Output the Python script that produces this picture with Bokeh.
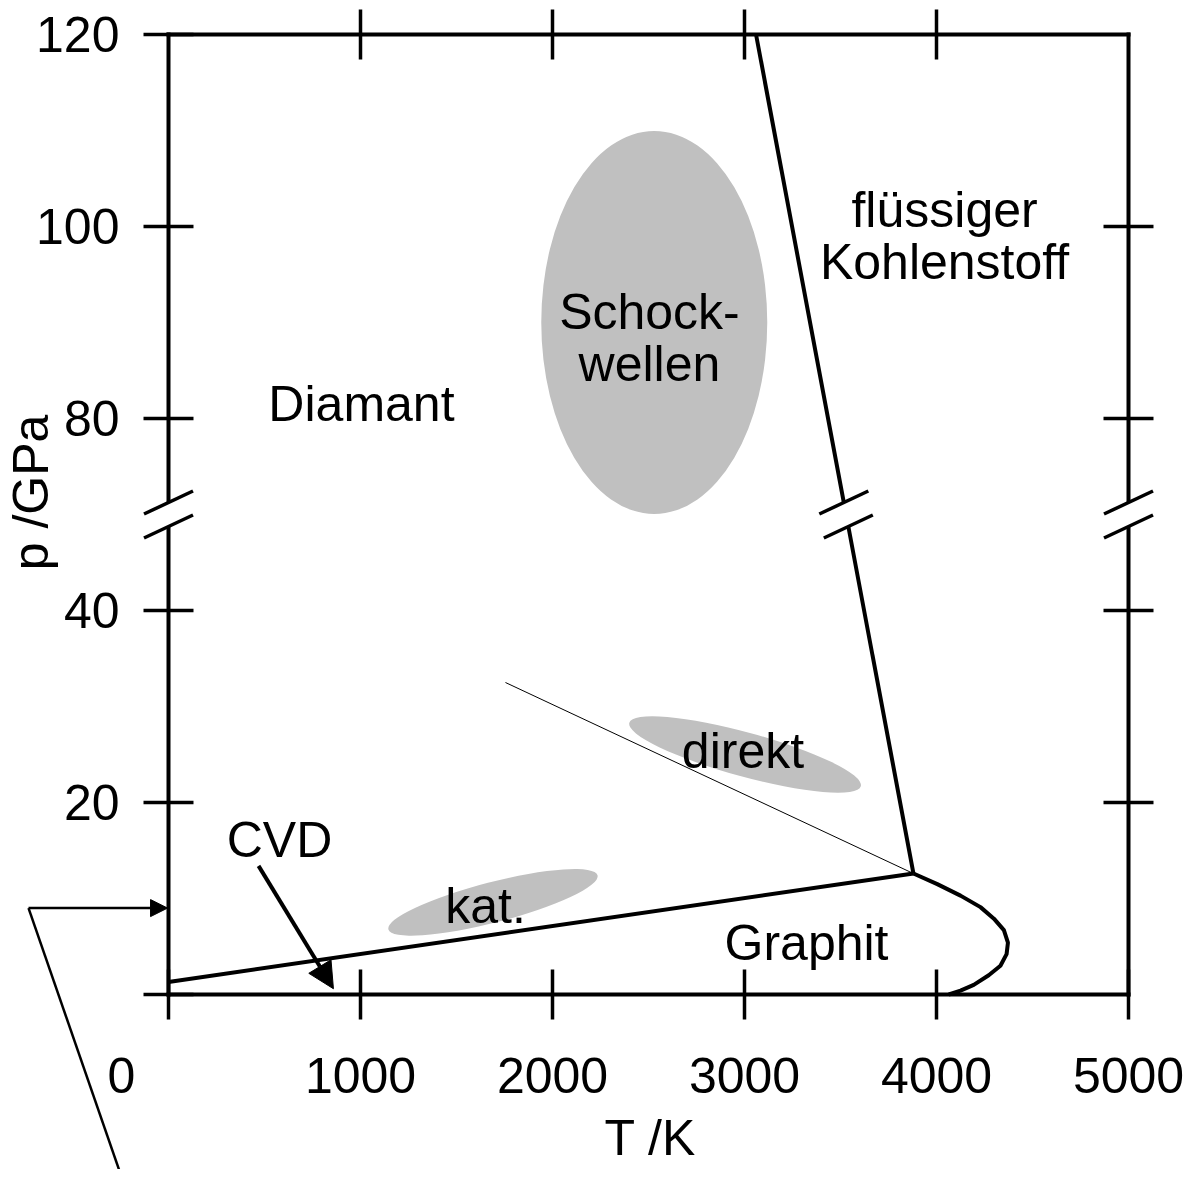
import numpy as np
from bokeh.plotting import figure
from bokeh.models import LinearAxis, FixedTicker, Label, Arrow, NormalHead, Range1d
from bokeh.core.properties import value
from bokeh.embed import file_html
from bokeh.resources import INLINE

FONT = "Liberation Sans"
FS = "50px"

# ---------------- data ----------------
# axis ticks (T in K, p in GPa)
T_ticks = [0, 1000, 2000, 3000, 4000, 5000]
T_tick_labels = ["", "1000", "2000", "3000", "4000", "5000"]
top_T_ticks = [1000, 2000, 3000, 4000]
p_ticks_low = [0, 20, 40]
p_labels_low = ["", "20", "40"]
p_ticks_high = [80, 100, 120]
p_labels_high = ["80", "100", "120"]
right_p_ticks_low = [20, 40]
right_p_ticks_high = [80, 100]

# broken pressure axis: 0..50 GPa below the break, 70..120 GPa above it
P_BREAK = 50
P_SHIFT = 20
T_MIN, T_MAX = 0, 5000
P_DISP_MAX = 100

# phase boundaries
gd_T = [0, 3880]            # graphite / diamond
gd_p = [1.3, 12.6]
dl_T = [3880, 3060]         # diamond / liquid
dl_p = [12.6, 120]
gl_T = [3880, 4004, 4125, 4229, 4299, 4351, 4372, 4365, 4333, 4272, 4194, 4125, 4064]  # graphite / liquid
gl_p = [12.6, 11.5, 10.3, 9.1, 7.9, 6.7, 5.4, 4.2, 3.0, 2.0, 1.0, 0.4, 0.0]
ms_T = [1755, 3880]         # metastable extension
ms_p = [32.5, 12.6]

# synthesis regions (centre, extent along the tilted axes, tilt)
reg_name = ["Schockwellen", "direkt", "kat."]
reg_T = [2530, 3003, 1690]
reg_p = [90.0, 25.0, 9.6]
reg_dT = [1177, 1250, 1125]
reg_dp = [39.9, 4.6, 4.2]
reg_tilt = [0.0, -15.3, 14.5]

# region / phase labels
lab_text = ["Diamant", "Schock-\nwellen", "flüssiger\nKohlenstoff", "direkt", "kat.", "CVD", "Graphit"]
lab_T = [1005, 2505, 4042, 2992, 1651, 578, 3323]
lab_p = [81.5, 88.4, 99.0, 25.4, 9.2, 16.1, 5.4]

# CVD arrow
cvd_T = [469, 859]
cvd_p = [13.4, 0.6]

# pointer at the left of the pressure axis
ptr_T = [-729, -5, -229]
ptr_p = [9.0, 9.0, -19.9]


def disp(p):
    p = np.asarray(p, dtype=float)
    return np.where(p > P_BREAK, p - P_SHIFT, p)


# ---------------- figure ----------------
W, H = 1186, 1169
PX_PER_K = 0.192
PX_PER_GPA = 9.6
FRAME_LEFT, FRAME_BOTTOM = 168, 994
x_range = Range1d(-FRAME_LEFT / PX_PER_K, (W - FRAME_LEFT) / PX_PER_K)
y_range = Range1d(-(H - FRAME_BOTTOM) / PX_PER_GPA, FRAME_BOTTOM / PX_PER_GPA)

p = figure(width=W, height=H, x_range=x_range, y_range=y_range,
           output_backend="svg", toolbar_location=None,
           min_border_left=0, min_border_right=0, min_border_top=0, min_border_bottom=0,
           background_fill_color="white", border_fill_color="white")
p.outline_line_color = None
p.xgrid.visible = False
p.ygrid.visible = False

EPS_T, EPS_P = 10.4, 0.21
BR_LO, BR_HI = P_BREAK - 1.25, P_BREAK + 1.25


def style_axis(ax, ticks, labels, standoff, loc, bounds, show_labels=True):
    ax.fixed_location = loc
    ax.bounds = bounds
    ax.ticker = FixedTicker(ticks=[float(t) for t in ticks])
    ax.major_label_overrides = {float(t): l for t, l in zip(ticks, labels)}
    ax.axis_line_width = 4
    ax.axis_line_color = "black"
    ax.major_tick_line_width = 3.5
    ax.major_tick_line_color = "black"
    ax.major_tick_in = 25
    ax.major_tick_out = 25
    ax.minor_tick_line_color = None
    ax.major_label_text_font = FONT
    ax.major_label_text_color = "black"
    ax.major_label_text_font_size = FS if show_labels else "0px"
    ax.major_label_standoff = standoff


# bottom T axis
style_axis(p.xaxis[0], T_ticks, T_tick_labels, 38, 0.0, (T_MIN - EPS_T, T_MAX + EPS_T))
# top T axis
ax_top = LinearAxis()
style_axis(ax_top, top_T_ticks, [""] * len(top_T_ticks), 0, float(P_DISP_MAX),
           (T_MIN - EPS_T, T_MAX + EPS_T), show_labels=False)
p.add_layout(ax_top, "above")
# left p axis, lower and upper part
style_axis(p.yaxis[0], [float(v) for v in disp(p_ticks_low)], p_labels_low, 24, float(T_MIN),
           (-EPS_P, BR_LO))
ax_left_hi = LinearAxis()
style_axis(ax_left_hi, [float(v) for v in disp(p_ticks_high)], p_labels_high, 24, float(T_MIN),
           (BR_HI, P_DISP_MAX + EPS_P))
p.add_layout(ax_left_hi, "left")
# right p axis, lower and upper part
ax_right_lo = LinearAxis()
style_axis(ax_right_lo, [float(v) for v in disp(right_p_ticks_low)], [""] * 2, 0, float(T_MAX),
           (-EPS_P, BR_LO), show_labels=False)
p.add_layout(ax_right_lo, "right")
ax_right_hi = LinearAxis()
style_axis(ax_right_hi, [float(v) for v in disp(right_p_ticks_high)], [""] * 2, 0, float(T_MAX),
           (BR_HI, P_DISP_MAX + EPS_P), show_labels=False)
p.add_layout(ax_right_hi, "right")

# synthesis regions
p.ellipse(x=reg_T, y=disp(reg_p), width=reg_dT, height=reg_dp, angle=np.radians(reg_tilt),
          fill_color="#c0c0c0", line_color=None)

# phase boundaries
p.line(gd_T, disp(gd_p), line_width=4, line_color="black", line_join="round")
p.line(gl_T, disp(gl_p), line_width=4, line_color="black", line_join="round")
p.line(ms_T, disp(ms_p), line_width=1, line_color="black")

# diamond / liquid line, straight in the drawn coordinates, interrupted at the break
dl_y = disp(dl_p)


def T_at(yv):
    return dl_T[0] + (yv - dl_y[0]) * (dl_T[1] - dl_T[0]) / (dl_y[1] - dl_y[0])


T_hi, T_lo = T_at(BR_HI), T_at(BR_LO)
p.multi_line(xs=[[dl_T[1], T_hi], [T_lo, dl_T[0]]], ys=[[dl_y[1], BR_HI], [BR_LO, dl_y[0]]],
             line_width=4, line_color="black", line_join="round")

# break slashes on both axes and on the melting line
DX, DY = 127.6, 1.2
sx, sy = [], []
for xl, xh in [(T_MIN, T_MIN), (T_MAX, T_MAX), (T_lo, T_hi)]:
    sx += [xl, xh]
    sy += [BR_LO, BR_HI]
sx = np.array(sx)
sy = np.array(sy)
p.segment(x0=sx - DX, y0=sy - DY, x1=sx + DX, y1=sy + DY, line_color="black", line_width=3.5)

# texts
p.text(x=lab_T, y=disp(lab_p), text=lab_text, text_font=value(FONT), text_font_size=value(FS),
       text_align="center", text_baseline="middle", text_line_height=0.92, text_color="black")

# CVD arrow
p.add_layout(Arrow(end=NormalHead(size=26, fill_color="black", line_color="black"),
                   x_start=cvd_T[0], y_start=cvd_p[0], x_end=cvd_T[1], y_end=cvd_p[1],
                   line_width=4, line_color="black"))

# pointer on the left
p.add_layout(Arrow(end=NormalHead(size=17, fill_color="black", line_color="black"),
                   x_start=ptr_T[0], y_start=ptr_p[0], x_end=ptr_T[1], y_end=ptr_p[1],
                   line_width=2.5, line_color="black"))
p.line([ptr_T[0], ptr_T[2]], [ptr_p[0], ptr_p[2]], line_width=2.5, line_color="black")

# "0" tick label (set off to the left) and axis titles
p.add_layout(Label(x=-245, y=-8.4, text="0", text_font=FONT, text_font_size=FS,
                   text_align="center", text_baseline="alphabetic", text_color="black"))
p.add_layout(Label(x=2510, y=-14.9, text="T /K", text_font=FONT, text_font_size=FS,
                   text_align="center", text_baseline="alphabetic", text_color="black"))
p.add_layout(Label(x=-716, y=52.3, text="p /GPa", text_font=FONT, text_font_size=FS, angle=np.pi / 2,
                   text_align="center", text_baseline="alphabetic", text_color="black"))

open("out.html", "w").write(file_html(p, INLINE))
